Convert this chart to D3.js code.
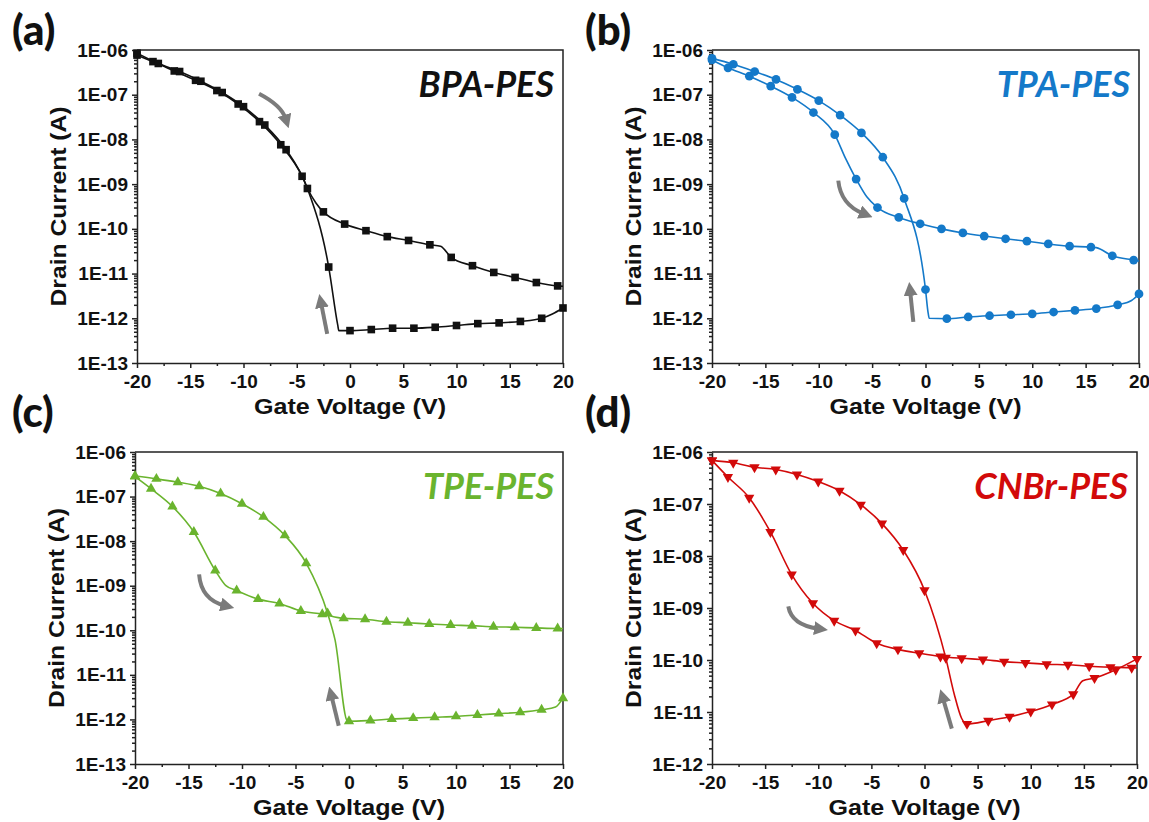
<!DOCTYPE html>
<html>
<head>
<meta charset="utf-8">
<title>Transfer curves</title>
<script src="https://d3js.org/d3.v7.min.js"></script>
<style>
	body { margin: 0; background: #fff; }
	svg { display: block; }
	.axis text { font-family: "Liberation Sans", Arial, sans-serif; font-weight: bold; font-size: 19px; fill: #111; }
	.axis path, .axis line { stroke: #222; stroke-width: 1.5; }
	.atitle { font-family: "Liberation Sans", Arial, sans-serif; font-weight: bold; font-size: 22px; fill: #111; }
	.plabel { font-family: Lato, "Open Sans", sans-serif; font-weight: 900; font-size: 42px; fill: #111; }
	.stitle { font-family: Lato, "Open Sans", sans-serif; font-weight: bold; font-style: italic; font-size: 36px; }
</style>
</head>
<body>
<div id="chart"></div>
<script>
// gate voltage ticks
var voltTicks = [-20, -15, -10, -5, 0, 5, 10, 15, 20];
var voltMinor = [-17.5, -12.5, -7.5, -2.5, 2.5, 7.5, 12.5, 17.5];
var currentTicks7 = [1e-13, 1e-12, 1e-11, 1e-10, 1e-9, 1e-8, 1e-7, 1e-6];
var currentTicks6 = [1e-12, 1e-11, 1e-10, 1e-9, 1e-8, 1e-7, 1e-6];

// (a) BPA-PES  [V, I]
var bpaFwd = [[-20,7.7e-7],[-18.5,5.5e-7],[-16.5,3.4e-7],[-14.5,2.1e-7],[-12.5,1.24e-7],[-10.5,6.2e-8],[-8.5,2.5e-8],[-6.5,7.6e-9],[-4.5,1.5e-9],[-2.5,2.4e-10],[-0.5,1.28e-10],[1.5,9.1e-11],[3.5,6.7e-11],[5.5,5.5e-11],[7.5,4.4e-11],[9.5,2.3e-11],[11.5,1.5e-11],[13.5,1.06e-11],[15.5,8.2e-12],[17.5,6.3e-12],[19.5,5.3e-12]];
var bpaFwdKnots = [[-4,8.1e-10],[-3.2,3.8e-10],[8.5,4.1e-11],[20,5.2e-12]];
var bpaRev = [[20,1.7e-12],[18,1.0e-12],[16,8.5e-13],[14,7.9e-13],[12,7.6e-13],[10,6.9e-13],[8,6.3e-13],[6,6.0e-13],[4,6.0e-13],[2,5.6e-13],[0,5.3e-13],[-2,1.4e-11],[-4,8.0e-10],[-6,5.9e-9],[-8,2.1e-8],[-10,5.4e-8],[-12,1.12e-7],[-14,2.0e-7],[-16,3.3e-7],[-18,5.0e-7],[-20,8.5e-7]];
var bpaRevKnots = [[19,1.25e-12],[-1.05,5.3e-13],[-1.15,7.0e-13]];

// (b) TPA-PES
var tpaFwd = [[-20,6.0e-7],[-18.5,4.0e-7],[-16.5,2.6e-7],[-14.5,1.56e-7],[-12.5,8.7e-8],[-10.5,4.0e-8],[-8.5,1.28e-8],[-6.5,1.3e-9],[-4.5,3.0e-10],[-2.5,1.8e-10],[-0.5,1.3e-10],[1.5,1.0e-10],[3.5,8.1e-11],[5.5,6.9e-11],[7.5,6.0e-11],[9.5,5.3e-11],[11.5,4.6e-11],[13.5,4.1e-11],[15.5,3.9e-11],[17.5,2.5e-11],[19.5,2.0e-11]];
var tpaFwdKnots = [[-7.5,3.8e-9],[-5.5,5.2e-10],[16,3.8e-11],[20,1.9e-11]];
var tpaRev = [[20,3.5e-12],[18,2.0e-12],[16,1.65e-12],[14,1.5e-12],[12,1.38e-12],[10,1.26e-12],[8,1.2e-12],[6,1.14e-12],[4,1.07e-12],[2,9.8e-13],[0,4.4e-12],[-2,4.8e-10],[-4,4.0e-9],[-6,1.4e-8],[-8,3.5e-8],[-10,7.4e-8],[-12,1.32e-7],[-14,2.2e-7],[-16,3.3e-7],[-18,4.8e-7],[-20,6.5e-7]];
var tpaRevKnots = [[19.3,2.5e-12],[0.35,1.0e-12],[0.25,1.3e-12]];

// (c) TPE-PES
var tpeFwd = [[-20,2.8e-7],[-18.5,1.5e-7],[-16.5,6.0e-8],[-14.5,1.6e-8],[-12.5,2.2e-9],[-10.5,7.8e-10],[-8.5,5.0e-10],[-6.5,4.0e-10],[-4.5,2.7e-10],[-2.5,2.3e-10],[-0.5,1.85e-10],[1.5,1.77e-10],[3.5,1.56e-10],[5.5,1.48e-10],[7.5,1.38e-10],[9.5,1.31e-10],[11.5,1.27e-10],[13.5,1.2e-10],[15.5,1.17e-10],[17.5,1.13e-10],[19.5,1.1e-10]];
var tpeFwdKnots = [[-11.5,1.0e-9],[20,1.1e-10]];
var tpeRev = [[20,3.0e-12],[18,1.65e-12],[16,1.45e-12],[14,1.35e-12],[12,1.26e-12],[10,1.17e-12],[8,1.12e-12],[6,1.07e-12],[4,1.02e-12],[2,9.5e-13],[0,9.1e-13],[-2,2.4e-10],[-4,3.2e-9],[-6,1.35e-8],[-8,3.5e-8],[-10,6.9e-8],[-12,1.17e-7],[-14,1.7e-7],[-16,2.1e-7],[-18,2.5e-7],[-20,2.9e-7]];
var tpeRevKnots = [[19.3,1.9e-12],[-0.15,9.2e-13],[-1.3,6.0e-11]];

// (d) CNBr-PES
var cnbFwd = [[-20,6.9e-7],[-18.5,3.3e-7],[-16.5,1.32e-7],[-14.5,2.9e-8],[-12.5,4.4e-9],[-10.5,1.23e-9],[-8.5,5.7e-10],[-6.5,3.7e-10],[-4.5,2.1e-10],[-2.5,1.6e-10],[-0.5,1.35e-10],[1.5,1.17e-10],[3.5,1.08e-10],[5.5,1.02e-10],[7.5,9.3e-11],[9.5,8.8e-11],[11.5,8.3e-11],[13.5,8.1e-11],[15.5,7.6e-11],[17.5,7.3e-11],[19.5,7.1e-11]];
var cnbFwdKnots = [[20,7.0e-11]];
var cnbRev = [[20,1.05e-10],[18,6.5e-11],[16,4.5e-11],[14,2.2e-11],[12,1.4e-11],[10,1.02e-11],[8,8.1e-12],[6,6.8e-12],[4,5.9e-12],[2,1.1e-10],[0,2.2e-9],[-2,1.3e-8],[-4,4.2e-8],[-6,9.7e-8],[-8,1.8e-7],[-10,2.7e-7],[-12,3.7e-7],[-14,4.6e-7],[-16,5.1e-7],[-18,6.2e-7],[-20,6.9e-7]];
var cnbRevKnots = [[14.9,4.0e-11],[3.5,7.5e-12],[2.8,2.2e-11]];

// sweep-direction arrows: [start, control, end] (curved) and [tail, end] (straight), in (V, I)
var arrowsCurved = [
	[[-8.54,1.05e-7],[-6.43,5.75e-8],[-6.04,2.9e-8]],
	[[-8.17,1.2e-9],[-7.94,3.5e-10],[-5.83,2.2e-10]],
	[[-14.01,1.8e-9],[-13.82,4.9e-10],[-11.63,3.6e-10]],
	[[-12.82,1.07e-9],[-12.51,4.7e-10],[-10.02,4.0e-10]]
];
var arrowsStraight = [
	[[-2.14,4.5e-13],[-2.70,2.1e-12]],
	[[-1.14,8.3e-13],[-1.43,3.9e-12]],
	[[-0.96,7.2e-13],[-1.63,3.3e-12]],
	[[2.57,4.8e-12],[1.75,1.8e-11]]
];

var panelLetters = ["(a)", "(b)", "(c)", "(d)"];
var panelTitles = ["BPA-PES", "TPA-PES", "TPE-PES", "CNBr-PES"];
var panelColors = ["#111111", "#1479c9", "#6ab42e", "#d20a0a"];

var W = 1149, H = 822;
var svg = d3.select("#chart").append("svg").attr("width", W).attr("height", H);

var defs = svg.append("defs");
defs.append("marker")
	.attr("id", "head")
	.attr("markerUnits", "userSpaceOnUse")
	.attr("viewBox", "0 0 14 14")
	.attr("markerWidth", 14).attr("markerHeight", 14)
	.attr("refX", 4).attr("refY", 7)
	.attr("orient", "auto")
	.append("path").attr("d", "M0,0 L14,7 L0,14 z").attr("fill", "#7b7b7b");

var layout = [
	{l: 137, t: 50, w: 426, h: 313, lx: 12, ly: 45},
	{l: 712, t: 50, w: 427, h: 313, lx: 585, ly: 45},
	{l: 135, t: 452, w: 428, h: 312, lx: 12, ly: 427},
	{l: 712, t: 452, w: 425, h: 312, lx: 585, ly: 427}
];

var panels = [
	{fwd: bpaFwd, fk: bpaFwdKnots, rev: bpaRev, rk: bpaRevKnots, yTicks: currentTicks7, sym: d3.symbolSquare, size: 58, rot: 0},
	{fwd: tpaFwd, fk: tpaFwdKnots, rev: tpaRev, rk: tpaRevKnots, yTicks: currentTicks7, sym: d3.symbolCircle, size: 60, rot: 0},
	{fwd: tpeFwd, fk: tpeFwdKnots, rev: tpeRev, rk: tpeRevKnots, yTicks: currentTicks7, sym: d3.symbolTriangle, size: 46, rot: 0},
	{fwd: cnbFwd, fk: cnbFwdKnots, rev: cnbRev, rk: cnbRevKnots, yTicks: currentTicks6, sym: d3.symbolTriangle, size: 46, rot: 180}
];

function expLabel(d) {
	var e = Math.round(Math.log10(d));
	return "1E-" + String(-e).padStart(2, "0");
}

panels.forEach(function(p, i) {
	var L = layout[i];
	var color = panelColors[i];
	var x = d3.scaleLinear().domain([-20, 20]).range([L.l, L.l + L.w]);
	var y = d3.scaleLog().domain([p.yTicks[0], p.yTicks[p.yTicks.length - 1]]).range([L.t + L.h, L.t]);
	var g = svg.append("g");

	// minor log ticks
	var minorY = [];
	for (var k = 0; k < p.yTicks.length - 1; k++) {
		for (var m = 2; m <= 9; m++) minorY.push(p.yTicks[k] * m);
	}

	g.append("g").attr("class", "axis").attr("transform", "translate(0," + (L.t + L.h) + ")")
		.call(d3.axisBottom(x).tickValues(voltMinor).tickSize(3).tickFormat(""))
		.select(".domain").remove();
	g.append("g").attr("class", "axis").attr("transform", "translate(" + L.l + ",0)")
		.call(d3.axisLeft(y).tickValues(minorY).tickSize(3).tickFormat(""))
		.select(".domain").remove();

	g.append("g").attr("class", "axis").attr("transform", "translate(0," + (L.t + L.h) + ")")
		.call(d3.axisBottom(x).tickValues(voltTicks).tickSize(5).tickSizeOuter(0).tickPadding(7)
			.tickFormat(function(d) { return String(d); }));
	g.append("g").attr("class", "axis").attr("transform", "translate(" + L.l + ",0)")
		.call(d3.axisLeft(y).tickValues(p.yTicks).tickSize(5).tickSizeOuter(0).tickPadding(4)
			.tickFormat(expLabel));

	// frame top + right
	g.append("path")
		.attr("d", "M" + L.l + "," + L.t + "H" + (L.l + L.w) + "V" + (L.t + L.h))
		.attr("fill", "none").attr("stroke", "#222").attr("stroke-width", 1.5);

	// axis titles
	g.append("text").attr("class", "atitle")
		.attr("x", L.l + L.w / 2).attr("y", L.t + L.h + 51)
		.attr("text-anchor", "middle")
		.attr("textLength", 192).attr("lengthAdjust", "spacingAndGlyphs")
		.text("Gate Voltage (V)");
	g.append("text").attr("class", "atitle")
		.attr("transform", "translate(" + (L.l - 71) + "," + (L.t + L.h / 2) + ") rotate(-90)")
		.attr("text-anchor", "middle")
		.attr("textLength", 200).attr("lengthAdjust", "spacingAndGlyphs")
		.text("Drain Current (A)");

	// panel letter + sample title
	svg.append("text").attr("class", "plabel").attr("x", L.lx).attr("y", L.ly).text(panelLetters[i]);
	g.append("text").attr("class", "stitle")
		.attr("x", L.l + L.w - 9).attr("y", L.t + 47)
		.attr("text-anchor", "end").attr("fill", color).text(panelTitles[i]);

	// curves
	var line = d3.line().x(function(d) { return x(d[0]); }).y(function(d) { return y(d[1]); })
		.curve(d3.curveMonotoneX);
	[[p.fwd, p.fk], [p.rev, p.rk]].forEach(function(s) {
		var pts = s[0].concat(s[1]).sort(function(a, b) { return a[0] - b[0]; });
		g.append("path").attr("d", line(pts)).attr("fill", "none")
			.attr("stroke", color).attr("stroke-width", 1.6);
		g.selectAll(null).data(s[0]).enter().append("path")
			.attr("d", d3.symbol().type(p.sym).size(p.size))
			.attr("transform", function(d) { return "translate(" + x(d[0]) + "," + y(d[1]) + ") rotate(" + p.rot + ")"; })
			.attr("fill", color);
	});

	// arrows
	var c = arrowsCurved[i];
	g.append("path")
		.attr("d", "M" + x(c[0][0]) + "," + y(c[0][1]) + "Q" + x(c[1][0]) + "," + y(c[1][1]) + " " + x(c[2][0]) + "," + y(c[2][1]))
		.attr("fill", "none").attr("stroke", "#7b7b7b").attr("stroke-width", 4)
		.attr("marker-end", "url(#head)");
	var s2 = arrowsStraight[i];
	g.append("line")
		.attr("x1", x(s2[0][0])).attr("y1", y(s2[0][1]))
		.attr("x2", x(s2[1][0])).attr("y2", y(s2[1][1]))
		.attr("stroke", "#7b7b7b").attr("stroke-width", 4)
		.attr("marker-end", "url(#head)");
});
</script>
</body>
</html>
